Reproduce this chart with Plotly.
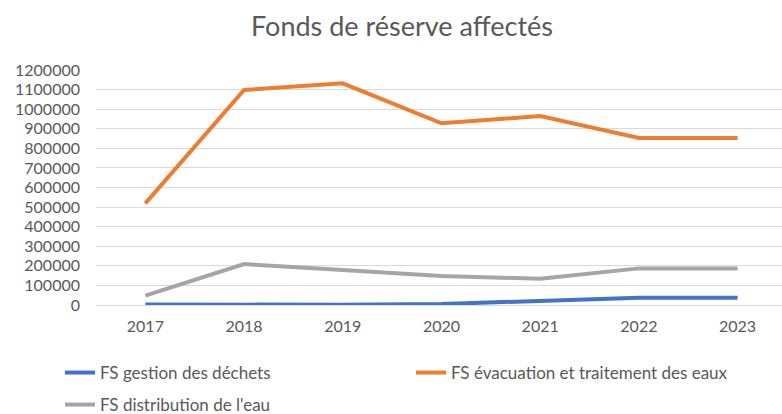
import plotly.graph_objects as go

years = ["2017", "2018", "2019", "2020", "2021", "2022", "2023"]
gestion_dechets = [3000, 1000, 1000, 5000, 22000, 37000, 37000]
evacuation_eaux = [519000, 1098000, 1132000, 928000, 965000, 853000, 853000]
distribution_eau = [48000, 209000, 179000, 148000, 134000, 187000, 187000]
y_ticks = list(range(0, 1200001, 100000))

series = [
    ("FS gestion des déchets", gestion_dechets, "#4472C4", "legend"),
    ("FS évacuation et traitement des eaux", evacuation_eaux, "#ED7D31", "legend"),
    ("FS distribution de l'eau", distribution_eau, "#A5A5A5", "legend2"),
]

fig = go.Figure()
for name, vals, col, leg in series:
    fig.add_trace(go.Scatter(x=years, y=vals, name=name, mode="lines",
                             line=dict(color=col, width=4), legend=leg))

font_fam = "Lato, Open Sans, sans-serif"
tick_col = "#595959"
leg_common = dict(orientation="h", xanchor="left", yanchor="middle",
                  font=dict(size=17, color=tick_col), bgcolor="rgba(0,0,0,0)")
fig.update_layout(
    width=782, height=414,
    margin=dict(l=96, r=0, t=70, b=109, autoexpand=False),
    paper_bgcolor="white", plot_bgcolor="white",
    font=dict(family=font_fam, size=16, color=tick_col),
    title=dict(text="Fonds de réserve affectés", x=402 / 782, xref="container", xanchor="center",
               y=0.935, yref="container", yanchor="middle",
               font=dict(size=27, color=tick_col)),
    showlegend=True,
    legend=dict(x=(60 - 96) / 686, y=(305 - 373) / 235,
                entrywidth=306, entrywidthmode="pixels", **leg_common),
    legend2=dict(x=(60 - 96) / 686, y=(305 - 405) / 235, **leg_common),
    xaxis=dict(type="category", range=[-0.5, 6.45], showgrid=False, showline=False,
               ticks="", ticklabelstandoff=10, tickfont=dict(size=16, color=tick_col)),
    yaxis=dict(range=[0, 1200000], tickvals=y_ticks, ticktext=[str(v) for v in y_ticks],
               showgrid=True, gridcolor="#D9D9D9", gridwidth=1, zeroline=True,
               zerolinecolor="#D9D9D9", zerolinewidth=1, ticks="", ticklabelstandoff=15,
               tickfont=dict(size=16, color=tick_col)),
)
fig.write_html("out.html", config={"displayModeBar": False},
               post_script="document.body.style.margin='0';")
